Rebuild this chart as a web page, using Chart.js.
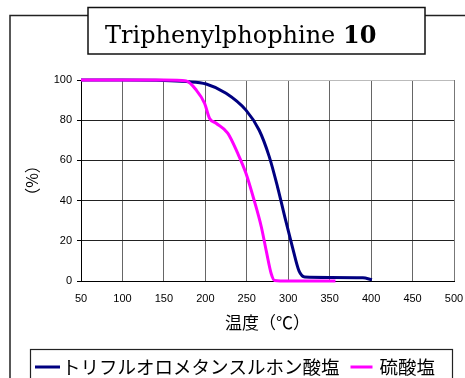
<!DOCTYPE html>
<html>
<head>
<meta charset="utf-8">
<script src="https://cdn.jsdelivr.net/npm/chart.js@4/dist/chart.umd.min.js"></script>
<style>
html,body{margin:0;padding:0;background:#fff;}
canvas{display:block;}
</style>
</head>
<body>
<canvas id="c" width="465" height="378"></canvas>
<script>
// ---- data ----
const chartTitle = "Triphenylphophine ";
const chartTitleBold = "10";
const xTitle = "温度（℃）";
const yTitle = "（%）";
const xTicks = [50, 100, 150, 200, 250, 300, 350, 400, 450, 500];
const yTicks = [0, 20, 40, 60, 80, 100];

const triflateLabel = "トリフルオロメタンスルホン酸塩";
const triflateTemp  = [50, 100, 150, 177, 201, 225, 249, 265, 277, 287, 297, 305, 313, 320, 350, 390, 401];
const triflateMass  = [100, 100, 99.8, 99.2, 98, 93.4, 85, 75, 62, 47, 30, 17, 5, 2, 1.8, 1.6, 0.6];

const sulfateLabel = "硫酸塩";
const sulfateTemp  = [50, 100, 150, 177, 189, 199, 205, 213, 227, 239, 249, 259, 267.5, 273.5, 279.5, 283.5, 300, 357];
const sulfateMass  = [100, 100, 100, 99.5, 95, 88.5, 81, 78.5, 73.6, 63.6, 53.6, 40, 27, 15, 3.6, 0.3, 0, 0];

const toPoints = (xs, ys) => xs.map((x, i) => ({x: x, y: ys[i]}));

const decorPlugin = {
  id: 'decor',
  beforeDraw(chart) {
    const ctx = chart.ctx;
    ctx.save();
    ctx.fillStyle = '#fff';
    ctx.fillRect(0, 0, chart.width, chart.height);
    // outer frame
    ctx.strokeStyle = '#222';
    ctx.lineWidth = 1.5;
    ctx.beginPath();
    ctx.moveTo(10, 400);
    ctx.lineTo(10, 15.5);
    ctx.lineTo(470, 15.5);
    ctx.stroke();
    ctx.restore();
  },
  afterDraw(chart) {
    const ctx = chart.ctx;
    ctx.save();
    // title box
    ctx.fillStyle = '#fff';
    ctx.fillRect(88, 7, 337, 47);
    ctx.strokeStyle = '#111';
    ctx.lineWidth = 1.5;
    ctx.strokeRect(88, 7.5, 337, 46.5);
    ctx.fillStyle = '#000';
    ctx.textBaseline = 'alphabetic';
    ctx.textAlign = 'left';
    ctx.font = '24px "DejaVu Serif"';
    ctx.fillText(chartTitle, 105, 43);
    const w = ctx.measureText(chartTitle).width;
    ctx.font = 'bold 24px "DejaVu Serif"';
    ctx.fillText(chartTitleBold, 105 + w, 43);

    // legend box
    ctx.fillStyle = '#fff';
    ctx.fillRect(30, 349, 422, 40);
    ctx.strokeStyle = '#222';
    ctx.lineWidth = 1.2;
    ctx.strokeRect(30.5, 349.5, 422, 40);
    const ly = 367;
    ctx.font = '18.5px "Noto Sans CJK JP"';
    ctx.textBaseline = 'middle';
    const ds = chart.data.datasets;
    const items = [ds[1], ds[0]];
    let x = 35;
    items.forEach((d, i) => {
      ctx.strokeStyle = d.borderColor;
      ctx.lineWidth = 3;
      ctx.beginPath();
      ctx.moveTo(x, ly);
      ctx.lineTo(x + (i === 0 ? 25 : 22), ly);
      ctx.stroke();
      x += (i === 0 ? 27 : 29);
      ctx.fillStyle = '#000';
      ctx.fillText(d.label, x, ly);
      x += ctx.measureText(d.label).width + 11;
    });
    ctx.restore();
  }
};

new Chart(document.getElementById('c'), {
  type: 'line',
  data: {
    datasets: [
      {
        label: sulfateLabel,
        data: toPoints(sulfateTemp, sulfateMass),
        borderColor: '#FF00FF',
        borderWidth: 3,
        pointRadius: 0,
        cubicInterpolationMode: 'monotone',
        fill: false,
        clip: false,
        order: 1
      },
      {
        label: triflateLabel,
        data: toPoints(triflateTemp, triflateMass),
        borderColor: '#000080',
        borderWidth: 3,
        pointRadius: 0,
        cubicInterpolationMode: 'monotone',
        fill: false,
        clip: false,
        order: 2
      }
    ]
  },
  options: {
    responsive: false,
    animation: false,
    devicePixelRatio: 1,
    layout: { padding: { left: 0, top: 80, right: 11, bottom: 45 } },
    plugins: { legend: { display: false }, title: { display: false }, tooltip: { enabled: false } },
    scales: {
      x: {
        type: 'linear',
        min: xTicks[0],
        max: xTicks[xTicks.length - 1],
        afterBuildTicks(scale) { scale.ticks = xTicks.map(v => ({value: v})); },
        afterFit(scale) { scale.height = 52; scale.paddingLeft = 0; scale.paddingRight = 0; },
        ticks: { color: '#000', font: { family: 'Liberation Sans', size: 11 }, padding: 11, maxRotation: 0, autoSkip: false },
        grid: {
          drawTicks: false,
          color: ctx => (ctx.tick && ctx.tick.value === 500) ? '#777' : '#666',
          lineWidth: 1
        },
        border: { color: '#000', width: 1 },
        title: { display: true, text: xTitle, color: '#000', font: { family: 'Noto Sans CJK JP', size: 17 }, padding: 0 }
      },
      y: {
        min: 0,
        max: 100,
        afterBuildTicks(scale) { scale.ticks = yTicks.map(v => ({value: v})); },
        afterFit(scale) { scale.width = 81; scale.paddingTop = 0; scale.paddingBottom = 0; },
        ticks: { color: '#000', font: { family: 'Liberation Sans', size: 11 }, padding: 5 },
        grid: {
          drawTicks: true,
          tickLength: 4,
          tickColor: '#000',
          color: ctx => (ctx.tick && ctx.tick.value === 100) ? '#bbb' : '#222',
          lineWidth: 1
        },
        border: { color: '#000', width: 1 },
        title: { display: true, text: yTitle, color: '#000', font: { family: 'Noto Sans CJK JP', size: 16 }, padding: { top: 22, bottom: 0 } }
      }
    }
  },
  plugins: [decorPlugin]
});
</script>
</body>
</html>
